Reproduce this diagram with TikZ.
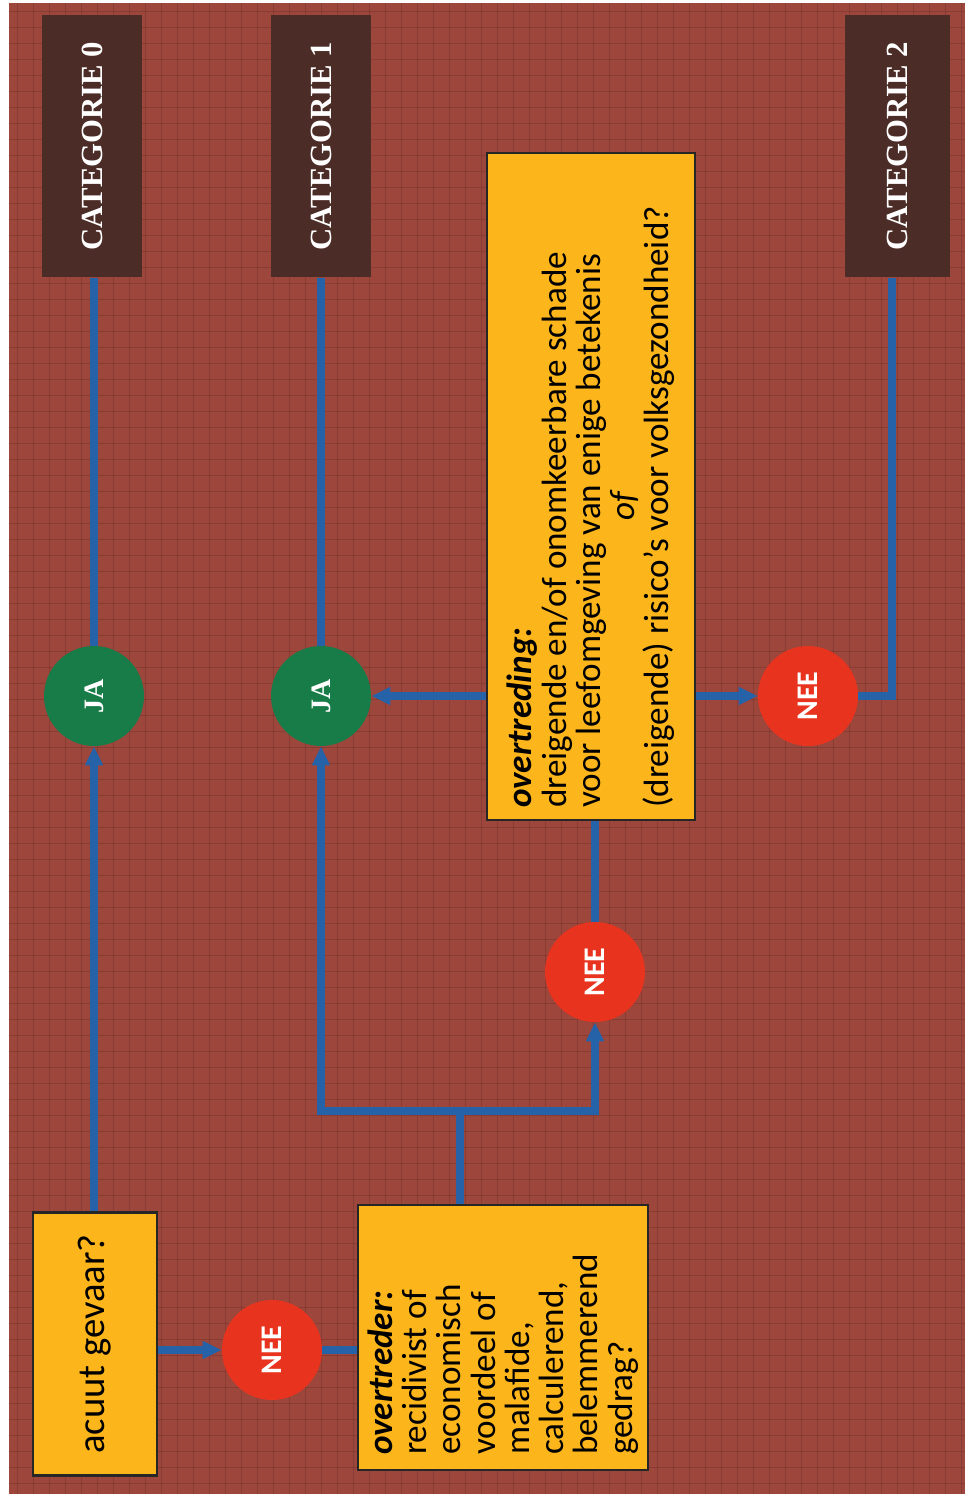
\documentclass[tikz,border=0pt]{standalone}
\usepackage{fontspec}
\setmainfont{Carlito}
\newfontfamily\catfont{Liberation Serif}
\usetikzlibrary{arrows.meta}

\definecolor{bgred}{RGB}{156,70,60}
\definecolor{bgline}{RGB}{100,42,36}
\definecolor{catbrown}{RGB}{76,44,38}
\definecolor{boxyellow}{RGB}{252,182,28}
\definecolor{flowblue}{RGB}{38,98,168}
\definecolor{jagreen}{RGB}{24,124,72}
\definecolor{neered}{RGB}{232,52,30}

\begin{document}
\begin{tikzpicture}[
  x=0.02cm, y=-0.02cm,
  catbox/.style={fill=catbrown, text=white, inner sep=0pt, minimum width=2cm, minimum height=5.26cm,
    font=\catfont\bfseries\fontsize{17.5}{17.5}\selectfont},
  qbox/.style={draw=black!85, line width=1.2pt, fill=boxyellow, inner sep=0pt,
    font=\fontsize{20}{19.5}\selectfont},
  ja/.style={circle, fill=jagreen, text=white, minimum size=2cm, inner sep=0pt,
    font=\catfont\bfseries\fontsize{16}{16}\selectfont},
  nee/.style={circle, fill=neered, text=white, minimum size=2cm, inner sep=0pt,
    font=\bfseries\fontsize{17}{17}\selectfont},
  flow/.style={draw=flowblue, line width=4.5pt},
  flowarrow/.style={flow, -{Triangle[length=0.38cm, width=0.34cm]}}
]
\useasboundingbox (0,0) rectangle (972,1501);
\fill[white] (0,0) rectangle (972,1501);
\fill[bgred] (9,3) rectangle (965,1494);
% weave texture
\foreach \gx in {17,33,...,961}
  \draw[bgline, line width=0.4pt, opacity=0.35] (\gx,3) -- (\gx,1494);
\foreach \gy in {11,27,...,1491}
  \draw[bgline, line width=0.4pt, opacity=0.35] (9,\gy) -- (965,\gy);

% outcomes
\node[catbox] (cat0) at (92,146) {\rotatebox{90}{CATEGORIE 0}};
\node[catbox] (cat1) at (321,146) {\rotatebox{90}{CATEGORIE 1}};
\node[catbox, minimum width=2.1cm] (cat2) at (897,146) {\rotatebox{90}{CATEGORIE 2}};

% questions
\node[qbox, minimum width=2.48cm, minimum height=5.26cm] (acuut) at (95,1344)
  {\rotatebox{90}{\fontsize{22}{22}\selectfont acuut gevaar?}};
\node[qbox, minimum width=5.8cm, minimum height=5.3cm] (dader) at (503,1337.5)
  {\rotatebox{90}{\parbox{4.7cm}{\raggedright
    \textbf{\textit{overtreder:}}\\
    recidivist of\\
    economisch\\
    voordeel of\\
    malafide,\\
    calculerend,\\
    belemmerend\\
    gedrag?}}};
\node[qbox, minimum width=4.16cm, minimum height=13.34cm] (daad) at (591,486.5)
  {\rotatebox{90}{\parbox{12.86cm}{\raggedright
    \textbf{\textit{overtreding:}}\\
    dreigende en/of onomkeerbare schade\\
    voor leefomgeving van enige betekenis\\
    \makebox[12.1cm][c]{\textit{of}}\\
    (dreigende) risico’s voor volksgezondheid?}}};

% answers
\node[ja] (ja0) at (94,696) {\rotatebox{90}{JA}};
\node[ja] (ja1) at (321,696) {\rotatebox{90}{JA}};
\node[nee] (nee0) at (272,1350) {\rotatebox{90}{NEE}};
\node[nee] (nee1) at (595,972) {\rotatebox{90}{NEE}};
\node[nee] (nee2) at (808,696) {\rotatebox{90}{NEE}};
\coordinate (split) at (460,1111);
\coordinate (bend) at (892,696);

% connectors
\draw[flow] (ja0 |- cat0.south) -- (ja0.north);
\draw[flow] (ja1 |- cat1.south) -- (ja1.north);
\draw[flowarrow] (ja0 |- acuut.north) -- (ja0.south);
\draw[flowarrow] (acuut.east |- nee0) -- (nee0.west);
\draw[flow] (nee0.east) -- (nee0 -| dader.west);
\draw[flow] (split |- dader.north) -- (split);
\draw[flowarrow] (split) -| (ja1.south);
\draw[flowarrow] (split) -| (nee1.south);
\draw[flow] (nee1.north) -- (nee1 |- daad.south);
\draw[flowarrow] (daad.west |- ja1) -- (ja1.east);
\draw[flowarrow] (daad.east |- nee2) -- (nee2.west);
\draw[flow] (nee2.east) -- (bend) -- (bend |- cat2.south);
\end{tikzpicture}
\end{document}
